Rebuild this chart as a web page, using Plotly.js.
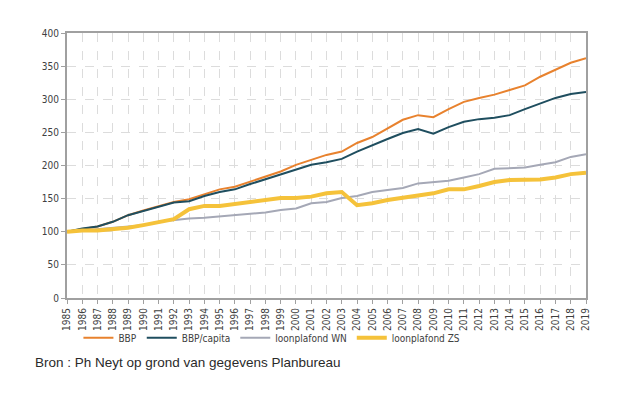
<!DOCTYPE html>
<html>
<head>
<meta charset="utf-8">
<script src="https://cdn.plot.ly/plotly-3.0.1.min.js"></script>
<style>html,body{margin:0;padding:0;background:#fff;}#chart{width:635px;height:397px;}</style>
</head>
<body>
<div id="chart"></div>
<script>
const years = [1985,1986,1987,1988,1989,1990,1991,1992,1993,1994,1995,1996,1997,1998,1999,2000,2001,2002,2003,2004,2005,2006,2007,2008,2009,2010,2011,2012,2013,2014,2015,2016,2017,2018,2019];
const bbp = [100,104,108,115,125,132,138,145,149,157,164,168,176,183,191,201,208,216,221,234,243,256,269,276,273,285,296,302,307,314,321,334,345,355,362];
const bbpCapita = [100,105,108,115,125,131,137,144,146,154,160,164,172,179,186,194,201,205,210,221,231,240,249,255,248,258,266,270,272,276,285,294,302,308,311];
const loonWN = [100,102,103,105,107,110,115,118,120,121,123,125,127,129,133,135,143,145,151,154,160,163,166,173,175,177,182,187,195,196,197,201,205,213,217];
const loonZS = [100,102,102,104,106,110,115,119,134,139,139,142,144,148,151,151,153,158,160,140,143,148,151,154,158,164,164,169,175,178,179,179,182,187,189];
const seriesNames = ["BBP","BBP/capita","loonplafond WN","loonplafond ZS"];
const sourceText = "Bron : Ph Neyt op grond van gegevens Planbureau";

const tickFont = {family: "'DejaVu Sans Condensed', 'DejaVu Sans', sans-serif", size: 10, color: "#404040"};
const traces = [
  {x: years, y: bbp, name: seriesNames[0], mode: "lines", line: {color: "#e8822e", width: 2}},
  {x: years, y: bbpCapita, name: seriesNames[1], mode: "lines", line: {color: "#1f4e5f", width: 2}},
  {x: years, y: loonWN, name: seriesNames[2], mode: "lines", line: {color: "#a5a8b6", width: 2}},
  {x: years, y: loonZS, name: seriesNames[3], mode: "lines", line: {color: "#f5c23a", width: 4}}
];
const layout = {
  width: 635, height: 397,
  margin: {l: 67, r: 49, t: 33, b: 99},
  paper_bgcolor: "#ffffff", plot_bgcolor: "#ffffff",
  showlegend: true,
  legend: {orientation: "h", x: 0.022, xanchor: "left", y: -0.095, yanchor: "top",
           font: tickFont, itemwidth: 30, traceorder: "normal", bgcolor: "rgba(0,0,0,0)"},
  xaxis: {
    range: [1985, 2019], tickmode: "array", tickvals: years, ticktext: years.map(String),
    tickangle: -90, tickfont: tickFont, ticks: "outside", ticklen: 4, tickcolor: "#a0a0a0",
    showgrid: true, gridcolor: "#dcdcdc", griddash: "dash", gridwidth: 1,
    showline: true, linecolor: "#a0a0a0", linewidth: 2, mirror: true, zeroline: false
  },
  yaxis: {
    range: [0, 400], dtick: 50, tickfont: tickFont, ticks: "outside", ticklen: 4, tickcolor: "#a0a0a0",
    showgrid: true, gridcolor: "#dcdcdc", griddash: "dash", gridwidth: 1,
    showline: true, linecolor: "#a0a0a0", linewidth: 2, mirror: true, zeroline: false
  },
  annotations: [{
    text: sourceText, xref: "paper", yref: "paper", x: -0.0655, y: -0.245,
    xanchor: "left", yanchor: "middle", showarrow: false,
    font: {family: "'Liberation Sans', Arial, sans-serif", size: 13.5, color: "#2a2a2a"}
  }]
};
Plotly.newPlot("chart", traces, layout, {displayModeBar: false, staticPlot: true});
</script>
</body>
</html>
